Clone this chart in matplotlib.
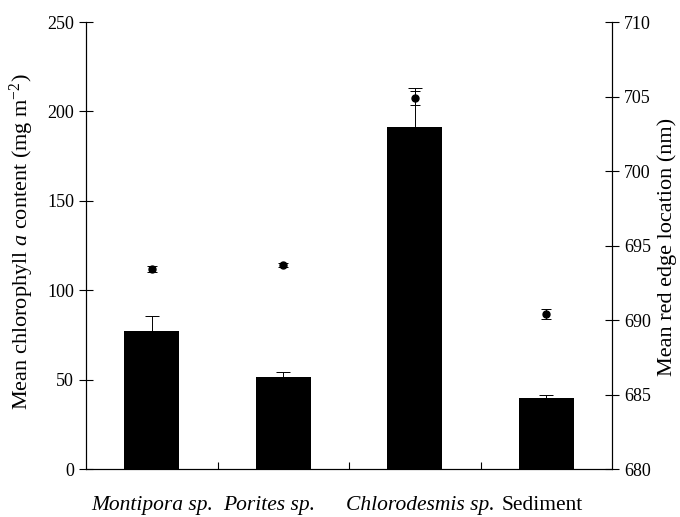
import matplotlib
matplotlib.use('Agg')
import matplotlib.pyplot as plt
import numpy as np

plt.rcParams['font.family'] = ['Liberation Serif', 'DejaVu Serif']
plt.rcParams['mathtext.fontset'] = 'custom'
plt.rcParams['mathtext.rm'] = 'Liberation Serif'
plt.rcParams['mathtext.it'] = 'Liberation Serif:italic'

categories = ['Montipora sp.', 'Porites sp.', 'Chlorodesmis sp.', 'Sediment']
italic = [True, True, True, False]
chl_mean = [77, 51.5, 191.5, 40]
chl_err = [8.5, 3, 21.5, 1.5]
red_edge = [693.4, 693.7, 704.9, 690.4]
red_edge_err = [0.2, 0.15, 0.5, 0.35]

fig = plt.figure(figsize=(6.8, 5.17), dpi=100)
ax = fig.add_axes([0.1265, 0.0928, 0.7735, 0.8646])
x = np.arange(len(categories))

ax.bar(x, chl_mean, width=0.42, color='black', zorder=2)
ax.errorbar(x, chl_mean, yerr=[np.zeros(len(x)), chl_err], fmt='none',
            ecolor='black', elinewidth=0.7, capsize=5, capthick=0.7, zorder=1)
ax.set_xlim(-0.5, 3.5)
ax.set_ylim(0, 250)
ax.set_yticks([0, 50, 100, 150, 200, 250])
ax.set_ylabel('Mean chlorophyll $\\mathit{a}$ content (mg m$^{\\mathrm{-2}}$)',
              fontsize=16, va='center')
ax.yaxis.set_label_coords(-0.122, 0.508)
ax.spines['top'].set_visible(False)
for s in ax.spines.values():
    s.set_linewidth(0.8)
ax.tick_params(axis='y', direction='inout', length=10, width=0.8, labelsize=13)
ax.set_xticks(x)
ax.set_xticklabels([])
ax.tick_params(axis='x', length=0, pad=0)
ax.set_xticks([0.5, 1.5, 2.5], minor=True)
ax.tick_params(axis='x', which='minor', direction='in', length=5, width=0.8)

# labels in the original sit a little off the bar centres
label_shift = [0.0, -0.11, 0.04, -0.03]
for i, lab in enumerate(categories):
    ax.text(i + label_shift[i], -0.092, lab, transform=ax.get_xaxis_transform(),
            ha='center', va='baseline', fontsize=15.5,
            style='italic' if italic[i] else 'normal')

ax2 = ax.twinx()
ax2.errorbar(x, red_edge, yerr=red_edge_err, fmt='o', color='black',
             markersize=5, elinewidth=0.7, capsize=3.5, capthick=0.7)
ax2.set_ylim(680, 710)
ax2.set_yticks([680, 685, 690, 695, 700, 705, 710])
ax2.set_ylabel('Mean red edge location (nm)', fontsize=16, va='center')
ax2.yaxis.set_label_coords(1.105, 0.497)
ax2.spines['top'].set_visible(False)
for s in ax2.spines.values():
    s.set_linewidth(0.8)
ax2.tick_params(axis='y', direction='inout', length=10, width=0.8, labelsize=13)

plt.savefig('out.png', dpi=100)
